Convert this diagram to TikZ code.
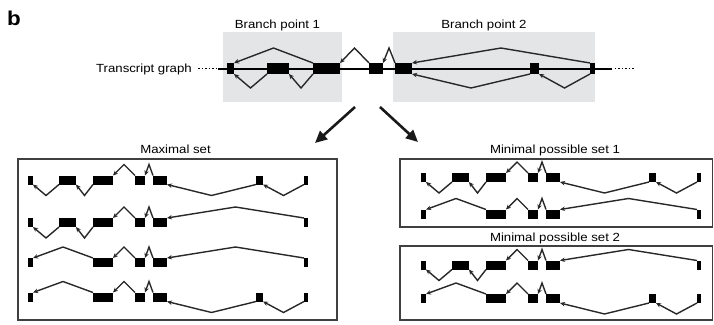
\documentclass[tikz,border=0pt]{standalone}
\usepackage{fontspec}
\setmainfont{Liberation Sans}[FakeStretch=1.12]
\usetikzlibrary{arrows.meta,calc}
\definecolor{bpgray}{RGB}{228,229,231}
\definecolor{jline}{RGB}{40,40,40}
\tikzset{
  exon/.style={fill=black, draw=none, inner sep=0pt, outer sep=0pt, rectangle},
  junc/.style={draw=jline, line width=1.4pt, line join=miter, -{Stealth[length=5pt,width=4.5pt]}},
  lbl/.style={font=\fontsize{11.8}{14}\selectfont, anchor=base, inner sep=0pt, text=black},
  setbox/.style={draw=black!75, line width=1.5pt},
  bpbox/.style={fill=bpgray, draw=none},
  bigarrow/.style={draw=black!90, line width=2.6pt, -{Triangle[length=12pt,width=11pt]}},
  mainline/.style={draw=black, line width=2pt},
  dotline/.style={draw=black, line width=1.6pt, dash pattern=on 1.5pt off 2pt},
}
% exon node: name, left, right, y centre, height
\newcommand{\exn}[5]{\node[exon, minimum width={(#3)-(#2)}, minimum height=#5] (#1) at ({((#2)+(#3))/2},#4) {};}
% junctions: left node, right node, amplitude
\newcommand{\jt}[3]{\draw[junc] (#2.north west) -- ($(#1.north east)!0.5!(#2.north west)+(0,-#3)$) -- (#1.north east);}
\newcommand{\jb}[3]{\draw[junc] (#2.south west) -- ($(#1.south east)!0.5!(#2.south west)+(0,#3)$) -- (#1.south east);}
% bottom-row exon: prefix, index, x0, y
\newcommand{\bx}[4]{%
  \ifcase#2\or \exn{#1#2}{#3+0}{#3+5}{#4}{9}%
  \or \exn{#1#2}{#3+31}{#3+48}{#4}{9}%
  \or \exn{#1#2}{#3+65}{#3+85}{#4}{9}%
  \or \exn{#1#2}{#3+107}{#3+117}{#4}{9}%
  \or \exn{#1#2}{#3+125}{#3+139}{#4}{9}%
  \or \exn{#1#2}{#3+228}{#3+235}{#4}{9}%
  \or \exn{#1#2}{#3+276}{#3+280}{#4}{9}%
  \fi}
\newcommand{\amp}{11}
\newcommand{\rowA}[3]{\bx{#1}{1}{#2}{#3}\bx{#1}{2}{#2}{#3}\bx{#1}{3}{#2}{#3}\bx{#1}{4}{#2}{#3}\bx{#1}{5}{#2}{#3}\bx{#1}{6}{#2}{#3}\bx{#1}{7}{#2}{#3}%
  \jb{#11}{#12}{\amp}\jb{#12}{#13}{\amp}\jt{#13}{#14}{\amp}\jt{#14}{#15}{\amp}\jb{#15}{#16}{\amp}\jb{#16}{#17}{\amp}}
\newcommand{\rowB}[3]{\bx{#1}{1}{#2}{#3}\bx{#1}{2}{#2}{#3}\bx{#1}{3}{#2}{#3}\bx{#1}{4}{#2}{#3}\bx{#1}{5}{#2}{#3}\bx{#1}{7}{#2}{#3}%
  \jb{#11}{#12}{\amp}\jb{#12}{#13}{\amp}\jt{#13}{#14}{\amp}\jt{#14}{#15}{\amp}\jt{#15}{#17}{\amp}}
\newcommand{\rowC}[3]{\bx{#1}{1}{#2}{#3}\bx{#1}{3}{#2}{#3}\bx{#1}{4}{#2}{#3}\bx{#1}{5}{#2}{#3}\bx{#1}{7}{#2}{#3}%
  \jt{#11}{#13}{\amp}\jt{#13}{#14}{\amp}\jt{#14}{#15}{\amp}\jt{#15}{#17}{\amp}}
\newcommand{\rowD}[3]{\bx{#1}{1}{#2}{#3}\bx{#1}{3}{#2}{#3}\bx{#1}{4}{#2}{#3}\bx{#1}{5}{#2}{#3}\bx{#1}{6}{#2}{#3}\bx{#1}{7}{#2}{#3}%
  \jt{#11}{#13}{\amp}\jt{#13}{#14}{\amp}\jt{#14}{#15}{\amp}\jb{#15}{#16}{\amp}\jb{#16}{#17}{\amp}}
\begin{document}
\begin{tikzpicture}[x=1pt,y=-1pt]
\useasboundingbox (0,0) rectangle (714,324);
% label b
\node[anchor=base west, inner sep=0pt, font=\fontsize{20}{21}\selectfont\bfseries] (blabel) at (7,25) {b};
% branch point boxes
\fill[bpbox] (223,32) rectangle (342,102);
\fill[bpbox] (393,32) rectangle (595,102);
\node[lbl] (bp1) at (277.5,28.3) {Branch point 1};
\node[lbl] (bp2) at (484,28.3) {Branch point 2};
\node[lbl, anchor=base east] (tg) at (192,72) {Transcript graph};
% main line
\coordinate (dl0) at (198,68.5);
\coordinate (ml0) at (218,68.5);
\coordinate (ml1) at (612,68.5);
\coordinate (dl1) at (634,68.5);
\draw[dotline] (dl0) -- (ml0);
\draw[mainline] (ml0) -- (ml1);
\draw[dotline] ($(ml1)+(2.5,0)$) -- (dl1);
% top exons
\exn{t1}{227}{234}{68.5}{11}
\exn{t2}{267}{289}{68.5}{11}
\exn{t3}{313}{340}{68.5}{11}
\exn{t4}{369}{383}{68.5}{11}
\exn{t5}{395}{412}{68.5}{11}
\exn{t6}{530}{539}{68.5}{11}
\exn{t7}{590}{595}{68.5}{11}
\jt{t1}{t3}{15}
\jb{t1}{t2}{14}
\jb{t2}{t3}{14}
\jt{t3}{t4}{15}
\jt{t4}{t5}{15}
\jt{t5}{t7}{15}
\jb{t5}{t6}{14}
\jb{t6}{t7}{14}
% big arrows
\coordinate (a1s) at (355,107);
\coordinate (a1e) at (315,143);
\coordinate (a2s) at (380,107);
\coordinate (a2e) at (418,142);
\draw[bigarrow] (a1s) -- (a1e);
\draw[bigarrow] (a2s) -- (a2e);
% set boxes
\draw[setbox] (18,159) rectangle (337,320);
\draw[setbox] (400,159) rectangle (712.5,227);
\draw[setbox] (400,246) rectangle (712.5,320);
\node[lbl] (lmax) at (175.5,153.3) {Maximal set};
\node[lbl] (lmin1) at (555,153.3) {Minimal possible set 1};
\node[lbl] (lmin2) at (555,241.7) {Minimal possible set 2};
% maximal set rows
\rowA{ma}{28}{180}
\rowB{mb}{28}{222.5}
\rowC{mc}{28}{262.5}
\rowD{md}{28}{297}
% minimal set 1
\rowA{na}{421}{177.5}
\rowC{nc}{421}{214}
% minimal set 2
\rowB{pb}{421}{265}
\rowD{pd}{421}{298.5}
\end{tikzpicture}
\end{document}
